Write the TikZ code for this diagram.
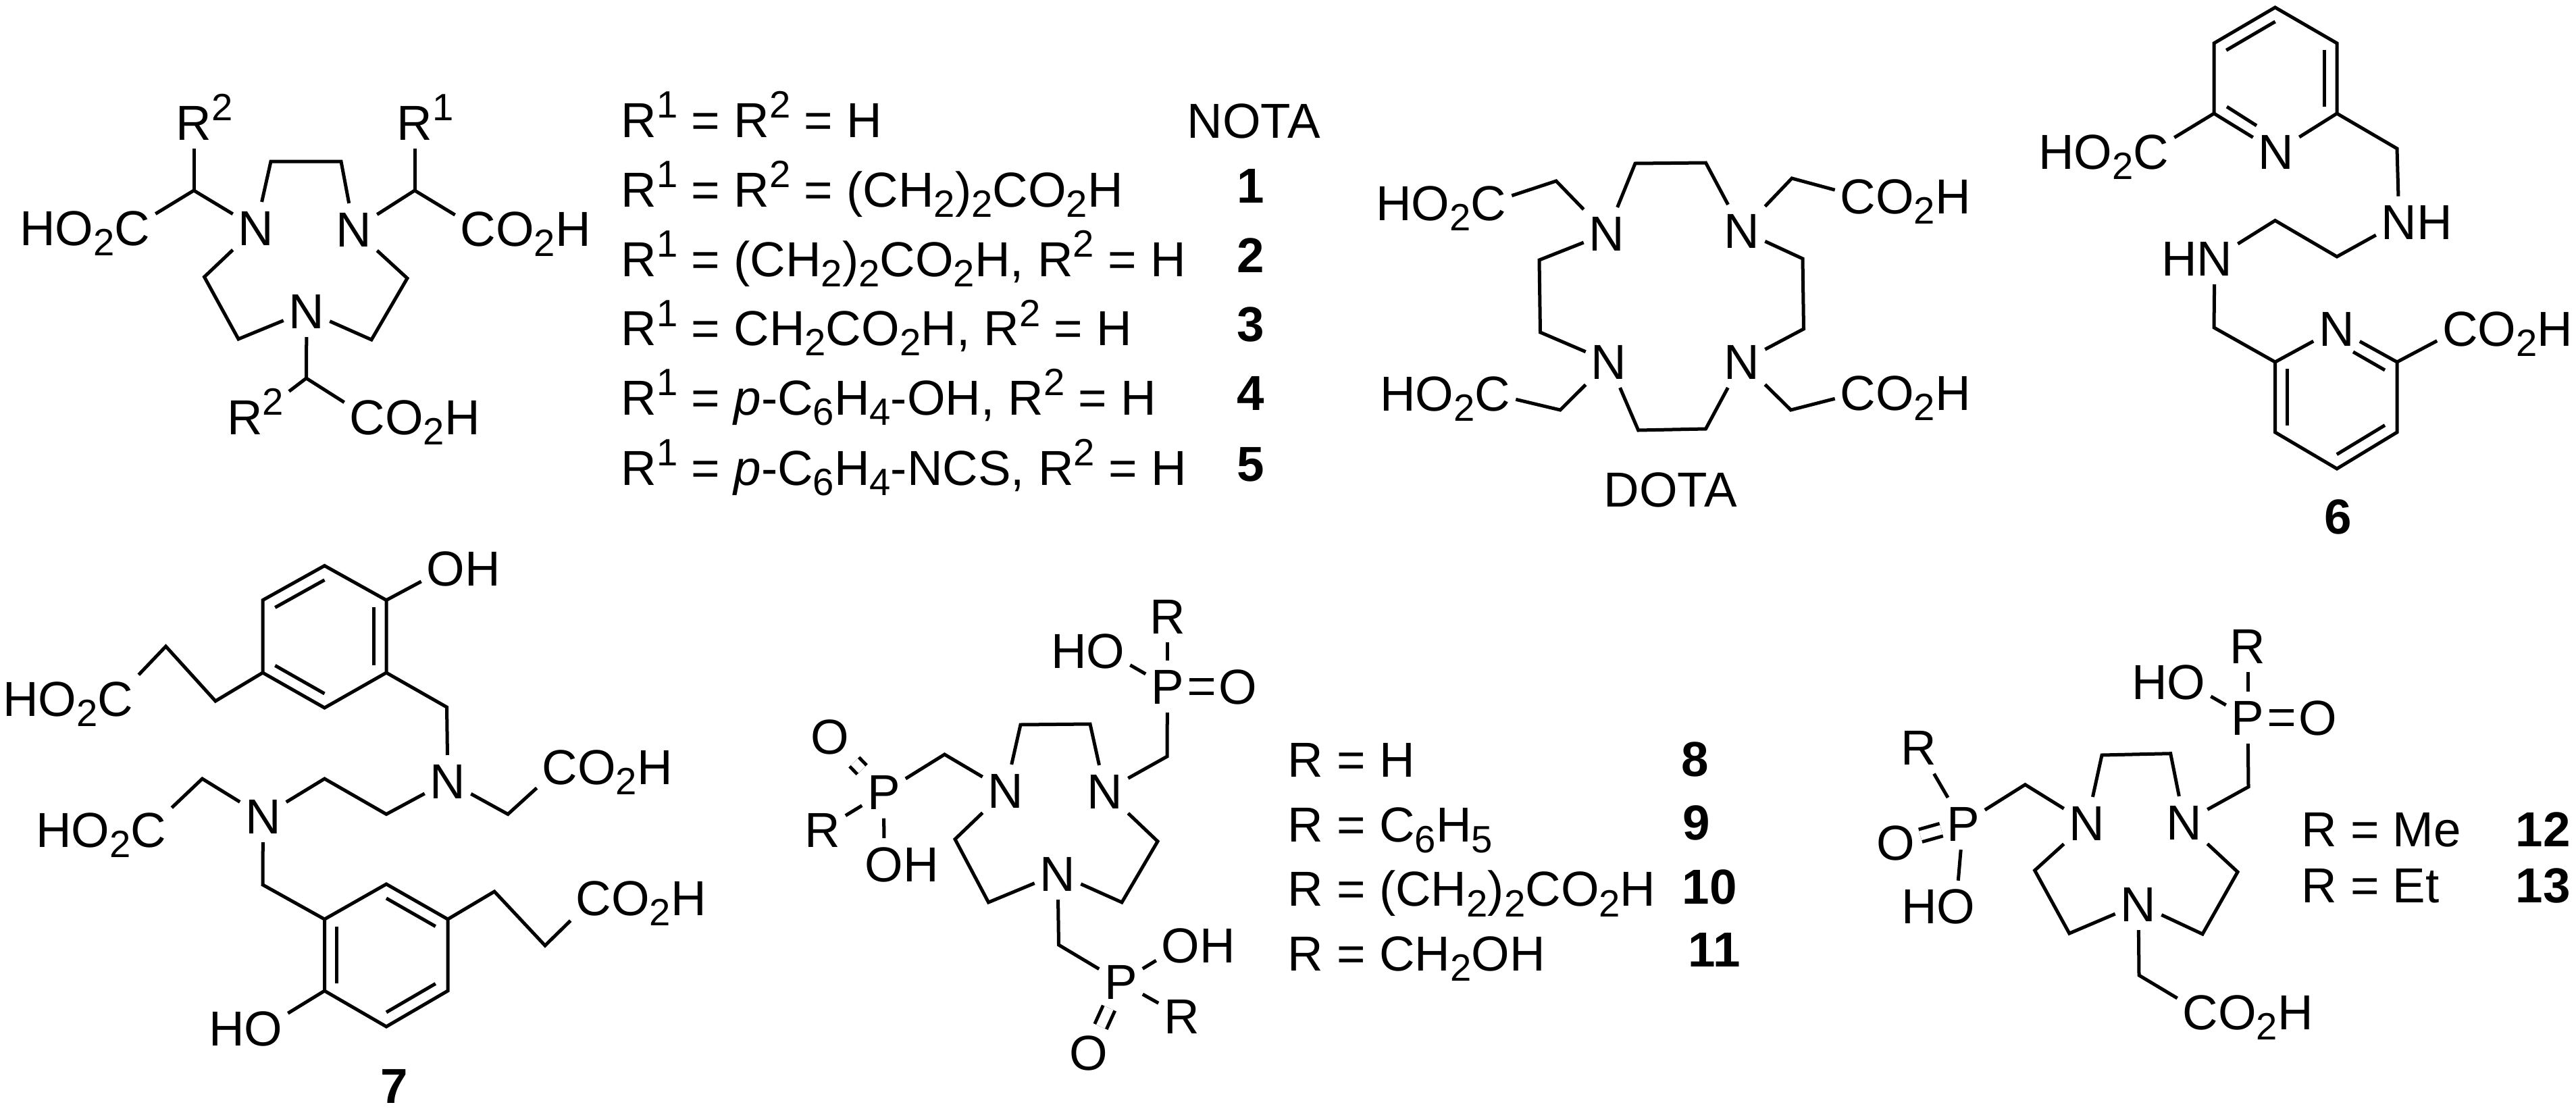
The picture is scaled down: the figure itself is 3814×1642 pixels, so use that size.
\documentclass[tikz,border=0pt]{standalone}
\usepackage{fontspec}
\setmainfont{Liberation Sans}
\usetikzlibrary{calc}
\newcommand{\chemfont}{\fontsize{20.7}{24}\selectfont}
\newcommand{\lsub}[1]{\raisebox{-0.21em}{\fontsize{16}{18}\selectfont #1}}
\newcommand{\lsup}[1]{\raisebox{0.39em}{\fontsize{16}{18}\selectfont #1}}
\tikzset{
  bond/.style={draw, line width=0.05cm},
  dblbond/.style={bond, double, double distance=0.14cm},
  atom/.style={font=\chemfont, anchor=base, outer sep=0pt, inner xsep=0.08cm, inner ysep=0.13cm, text height=0.51cm, text depth=0pt},
  txt/.style={font=\chemfont, anchor=base west, inner sep=0pt},
  num/.style={font=\chemfont\bfseries, anchor=base, inner sep=0pt}
}
\begin{document}
\begin{tikzpicture}[x=0.01cm, y=-0.01cm]
  \useasboundingbox (0, 0) rectangle (3814, 1642);

  \begin{scope}
    \node[atom] (na) at (379, 363) {N};
    \node[atom] (nb) at (524, 365) {N};
    \node[atom] (nc) at (454, 486) {N};
    \node[atom] (ra) at (287, 207) {R\rlap{\lsup{2}}};
    \node[atom] (rb) at (614, 207) {R\rlap{\lsup{1}}};
    \node[atom] (rc) at (378, 643) {R\lsup{2}};
    \node[atom] (acida) at (196, 363) {\llap{HO\lsub{2}}C};
    \node[atom] (acidb) at (708, 364.5) {C\rlap{O\lsub{2}H}};
    \node[atom] (acidc) at (544, 643) {C\rlap{O\lsub{2}H}};
    \coordinate (ca) at (287, 282);
    \coordinate (cb) at (614, 282);
    \coordinate (cc) at (453.5, 560);
    \coordinate (e1) at (401, 239);
    \coordinate (e2) at (505, 239);
    \coordinate (e3) at (302.5, 410);
    \coordinate (e4) at (353, 502);
    \coordinate (e5) at (603, 412);
    \coordinate (e6) at (550, 503);
    \draw[bond] (na) -- (e1) -- (e2) -- (nb);
    \draw[bond] (na) -- (e3) -- (e4) -- (nc);
    \draw[bond] (nb) -- (e5) -- (e6) -- (nc);
    \draw[bond] (acida) -- (ca) -- (na);
    \draw[bond] (acidb) -- (cb) -- (nb);
    \draw[bond] (ra) -- (ca);
    \draw[bond] (rb) -- (cb);
    \draw[bond] (nc) -- (cc) -- (acidc);
    \draw[bond] (cc) -- (rc);
  \end{scope}

  \foreach \yy/\rtxt/\yn/\num [count=\i] in {
    203/{R\lsup{1} = R\lsup{2} = H}/300/{},
    306/{R\lsup{1} = R\lsup{2} = (CH\lsub{2})\lsub{2}CO\lsub{2}H}/300/1,
    409/{R\lsup{1} = (CH\lsub{2})\lsub{2}CO\lsub{2}H, R\lsup{2} = H}/403.5/2,
    511.5/{R\lsup{1} = CH\lsub{2}CO\lsub{2}H, R\lsup{2} = H}/505/3,
    614/{R\lsup{1} = \textit{p}-C\lsub{6}H\lsub{4}-OH, R\lsup{2} = H}/607.5/4,
    718/{R\lsup{1} = \textit{p}-C\lsub{6}H\lsub{4}-NCS, R\lsup{2} = H}/712/5} {
    \node[txt] (row\i) at (919, \yy) {\rtxt};
    \node[num] (id\i) at (1852, \yn) {\num};
  }
  \node[txt] (nota) at (1757, 204) {NOTA};

  \begin{scope}
    \node[atom] (na) at (2379, 371) {N};
    \node[atom] (nb) at (2579, 367) {N};
    \node[atom] (nc) at (2382, 561) {N};
    \node[atom] (nd) at (2579, 561) {N};
    \node[atom] (acida) at (2204, 326.5) {\llap{HO\lsub{2}}C};
    \node[atom] (acidb) at (2751, 316) {C\rlap{O\lsub{2}H}};
    \node[atom] (acidc) at (2210, 608.7) {\llap{HO\lsub{2}}C};
    \node[atom] (acidd) at (2751, 607) {C\rlap{O\lsub{2}H}};
    \node[txt] (dota) at (2374, 750) {DOTA};
    \coordinate (e1) at (2421, 242);
    \coordinate (e2) at (2525.5, 241);
    \coordinate (e3) at (2279, 385);
    \coordinate (e4) at (2280.5, 492);
    \coordinate (e5) at (2669, 383);
    \coordinate (e6) at (2670.5, 487);
    \coordinate (e7) at (2425.6, 637);
    \coordinate (e8) at (2525.5, 635);
    \coordinate (ca) at (2304, 268);
    \coordinate (cb) at (2653, 264);
    \coordinate (cc) at (2310, 607);
    \coordinate (cd) at (2651.5, 607);
    \draw[bond] (na) -- (e1) -- (e2) -- (nb);
    \draw[bond] (na) -- (e3) -- (e4) -- (nc);
    \draw[bond] (nb) -- (e5) -- (e6) -- (nd);
    \draw[bond] (nc) -- (e7) -- (e8) -- (nd);
    \draw[bond] (na) -- (ca) -- (acida);
    \draw[bond] (nb) -- (cb) -- (acidb);
    \draw[bond] (nc) -- (cc) -- (acidc);
    \draw[bond] (nd) -- (cd) -- (acidd);
  \end{scope}

  \begin{scope}
    \node[atom] (py1) at (3370, 250) {N};
    \node[atom] (py2) at (3459.5, 512) {N};
    \node[atom] (nh) at (3552, 354.6) {N\rlap{H}};
    \node[atom] (hn) at (3279, 408) {\llap{H}N};
    \node[atom] (acida) at (3185, 250) {\llap{HO\lsub{2}}C};
    \node[atom] (acidb) at (3642.5, 512) {C\rlap{O\lsub{2}H}};
    \node[num] (id6) at (3462, 790) {6};
    \coordinate (u1) at (3368.5, 11);
    \coordinate (u2) at (3460, 64);
    \coordinate (u3) at (3460, 168);
    \coordinate (u5) at (3278, 168);
    \coordinate (u6) at (3278, 64);
    \coordinate (uc) at (3369, 116);
    \coordinate (v1) at (3368.5, 536);
    \coordinate (v2) at (3368.5, 640);
    \coordinate (v3) at (3460, 694);
    \coordinate (v4) at (3549, 640);
    \coordinate (v5) at (3549, 536);
    \coordinate (vc) at (3459, 588);
    \coordinate (e1) at (3549, 220);
    \coordinate (e2) at (3460, 380);
    \coordinate (e3) at (3368.5, 326.5);
    \coordinate (e4) at (3278, 485);
    \coordinate (i1) at (3297, 158);
    \coordinate (i2) at (3341, 186);
    \coordinate (i3) at (3484, 521);
    \coordinate (i4) at (3531, 548);
    \draw[bond] (py1) -- (u3) -- (u2) -- (u1) -- (u6) -- (u5) -- (py1);
    \draw[bond] (py2) -- (v1) -- (v2) -- (v3) -- (v4) -- (v5) -- (py2);
    \foreach \a/\b in {u6/u1, u2/u3} {
      \draw[bond] ($(\a)!0.2!(uc)$) -- ($(\b)!0.2!(uc)$);
    }
    \foreach \a/\b in {v1/v2, v3/v4} {
      \draw[bond] ($(\a)!0.2!(vc)$) -- ($(\b)!0.2!(vc)$);
    }
    \draw[bond] (i1) -- (i2);
    \draw[bond] (i3) -- (i4);
    \draw[bond] (u5) -- (acida);
    \draw[bond] (v5) -- (acidb);
    \draw[bond] (u3) -- (e1) -- (nh) -- (e2) -- (e3) -- (hn) -- (e4) -- (v1);
  \end{scope}

  \begin{scope}
    \node[atom] (na) at (663, 1182) {N};
    \node[atom] (nb) at (389.5, 1234) {N};
    \node[atom] (oha) at (660, 867) {O\rlap{H}};
    \node[atom] (ohb) at (390, 1548) {\llap{H}O};
    \node[atom] (acida) at (171, 1060.5) {\llap{HO\lsub{2}}C};
    \node[atom] (acidb) at (829, 1161) {C\rlap{O\lsub{2}H}};
    \node[atom] (acidc) at (220, 1254) {\llap{HO\lsub{2}}C};
    \node[atom] (acidd) at (879, 1355) {C\rlap{O\lsub{2}H}};
    \node[num] (id7) at (583.6, 1633.5) {7};
    \coordinate (u1) at (480.5, 837.6);
    \coordinate (u2) at (572, 888.6);
    \coordinate (u3) at (572, 996);
    \coordinate (u4) at (480.5, 1048);
    \coordinate (u5) at (389, 996);
    \coordinate (u6) at (389, 888.6);
    \coordinate (uc) at (480.5, 943);
    \coordinate (v1) at (480.5, 1361);
    \coordinate (v2) at (572, 1309);
    \coordinate (v3) at (663, 1361);
    \coordinate (v4) at (663, 1467);
    \coordinate (v5) at (572, 1520);
    \coordinate (v6) at (480.5, 1467);
    \coordinate (vc) at (572, 1414);
    \coordinate (e1) at (319, 1038);
    \coordinate (e2) at (245.5, 957);
    \coordinate (e3) at (661.5, 1047);
    \coordinate (e4) at (752, 1205.5);
    \coordinate (e5) at (572, 1205.5);
    \coordinate (e6) at (480.5, 1153);
    \coordinate (e7) at (299.5, 1153);
    \coordinate (e8) at (389, 1310);
    \coordinate (e9) at (732, 1320);
    \coordinate (e10) at (807, 1400);
    \draw[bond] (u1) -- (u2) -- (u3) -- (u4) -- (u5) -- (u6) -- cycle;
    \draw[bond] (v1) -- (v2) -- (v3) -- (v4) -- (v5) -- (v6) -- cycle;
    \foreach \a/\b in {u6/u1, u2/u3, u4/u5} {
      \draw[bond] ($(\a)!0.2!(uc)$) -- ($(\b)!0.2!(uc)$);
    }
    \foreach \a/\b in {v1/v6, v2/v3, v4/v5} {
      \draw[bond] ($(\a)!0.2!(vc)$) -- ($(\b)!0.2!(vc)$);
    }
    \draw[bond] (u2) -- (oha);
    \draw[bond] (v6) -- (ohb);
    \draw[bond] (u5) -- (e1) -- (e2) -- (acida);
    \draw[bond] (u3) -- (e3) -- (na) -- (e4) -- (acidb);
    \draw[bond] (na) -- (e5) -- (e6) -- (nb);
    \draw[bond] (acidc) -- (e7) -- (nb) -- (e8) -- (v1);
    \draw[bond] (v3) -- (e9) -- (e10) -- (acidd);
  \end{scope}

  \begin{scope}
    \node[atom] (na) at (1489, 1196) {N};
    \node[atom] (nb) at (1636, 1197) {N};
    \node[atom] (nc) at (1566, 1319) {N};
    \node[atom] (pa) at (1308.5, 1198.5) {P};
    \node[atom] (pb) at (1728.5, 1042) {P};
    \node[atom] (pc) at (1659.5, 1479.5) {P};
    \node[atom] (oa) at (1228.5, 1116) {O};
    \node[atom] (ob) at (1833, 1042) {O};
    \node[atom] (oc) at (1612, 1584) {O};
    \node[atom] (ra) at (1217.6, 1254) {R};
    \node[atom] (rb) at (1728.5, 938) {R};
    \node[atom] (rc) at (1749.5, 1530) {R};
    \node[atom] (oha) at (1309, 1305) {O\rlap{H}};
    \node[atom] (ohb) at (1637, 989.3) {\llap{H}O};
    \node[atom] (ohc) at (1748, 1425.5) {O\rlap{H}};
    \coordinate (e1) at (1511, 1073);
    \coordinate (e2) at (1614, 1072);
    \coordinate (e3) at (1414, 1242.5);
    \coordinate (e4) at (1463.5, 1336);
    \coordinate (e5) at (1714, 1245.7);
    \coordinate (e6) at (1661, 1336);
    \coordinate (ca) at (1398.5, 1117);
    \coordinate (cb) at (1728, 1120);
    \coordinate (cc) at (1567.5, 1399);
    \draw[bond] (na) -- (e1) -- (e2) -- (nb);
    \draw[bond] (na) -- (e3) -- (e4) -- (nc);
    \draw[bond] (nb) -- (e5) -- (e6) -- (nc);
    \draw[bond] (na) -- (ca) -- (pa);
    \draw[bond] (nb) -- (cb) -- (pb);
    \draw[bond] (nc) -- (cc) -- (pc);
    \draw[bond] (pa) -- (ra);
    \draw[bond] (pa) -- (oha);
    \draw[dblbond] (pa) -- (oa);
    \draw[bond] (pb) -- (rb);
    \draw[bond] (pb) -- (ohb);
    \draw[dblbond] (pb) -- (ob);
    \draw[bond] (pc) -- (rc);
    \draw[bond] (pc) -- (ohc);
    \draw[dblbond] (pc) -- (oc);
  \end{scope}

  \foreach \yy/\rtxt/\xn/\yn/\num [count=\i from 6] in {
    1150.7/{R = H}/2510/1149/8,
    1246.7/{R = C\lsub{6}H\lsub{5}}/2512/1243/9,
    1341.7/{R = (CH\lsub{2})\lsub{2}CO\lsub{2}H}/2531/1338/10,
    1437.3/{R = CH\lsub{2}OH}/2538/1431.7/11} {
    \node[txt] (row\i) at (1906, \yy) {\rtxt};
    \node[num] (id\i) at (\xn, \yn) {\num};
  }

  \begin{scope}
    \node[atom] (na) at (3090, 1244) {N};
    \node[atom] (nb) at (3234, 1243) {N};
    \node[atom] (nc) at (3166, 1364) {N};
    \node[atom] (pa) at (2906.5, 1245) {P};
    \node[atom] (pb) at (3328, 1088) {P};
    \node[atom] (oa) at (2807, 1273) {O};
    \node[atom] (ob) at (3432, 1088) {O};
    \node[atom] (ra) at (2841, 1132.6) {R};
    \node[atom] (rb) at (3328, 982.4) {R};
    \node[atom] (oha) at (2896, 1367.8) {\llap{H}O};
    \node[atom] (ohb) at (3237, 1035.7) {\llap{H}O};
    \node[atom] (acid) at (3258, 1524) {C\rlap{O\lsub{2}H}};
    \coordinate (e1) at (3112, 1118);
    \coordinate (e2) at (3213.7, 1115.7);
    \coordinate (e3) at (3012.6, 1288.7);
    \coordinate (e4) at (3063.8, 1382);
    \coordinate (e5) at (3313, 1291);
    \coordinate (e6) at (3261, 1383);
    \coordinate (ca) at (2998.4, 1161.7);
    \coordinate (cb) at (3329, 1165);
    \coordinate (cc) at (3167, 1444);
    \draw[bond] (na) -- (e1) -- (e2) -- (nb);
    \draw[bond] (na) -- (e3) -- (e4) -- (nc);
    \draw[bond] (nb) -- (e5) -- (e6) -- (nc);
    \draw[bond] (na) -- (ca) -- (pa);
    \draw[bond] (nb) -- (cb) -- (pb);
    \draw[bond] (nc) -- (cc) -- (acid);
    \draw[bond] (pa) -- (ra);
    \draw[bond] (pa) -- (oha);
    \draw[dblbond] (pa) -- (oa);
    \draw[bond] (pb) -- (rb);
    \draw[bond] (pb) -- (ohb);
    \draw[dblbond] (pb) -- (ob);
  \end{scope}

  \node[txt] (row10) at (3406.6, 1253) {R = Me};
  \node[txt] (row11) at (3406.6, 1336) {R = Et};
  \node[num, anchor=base west] (id12) at (3724, 1253) {12};
  \node[num, anchor=base west] (id13) at (3724, 1336) {13};
\end{tikzpicture}
\end{document}
